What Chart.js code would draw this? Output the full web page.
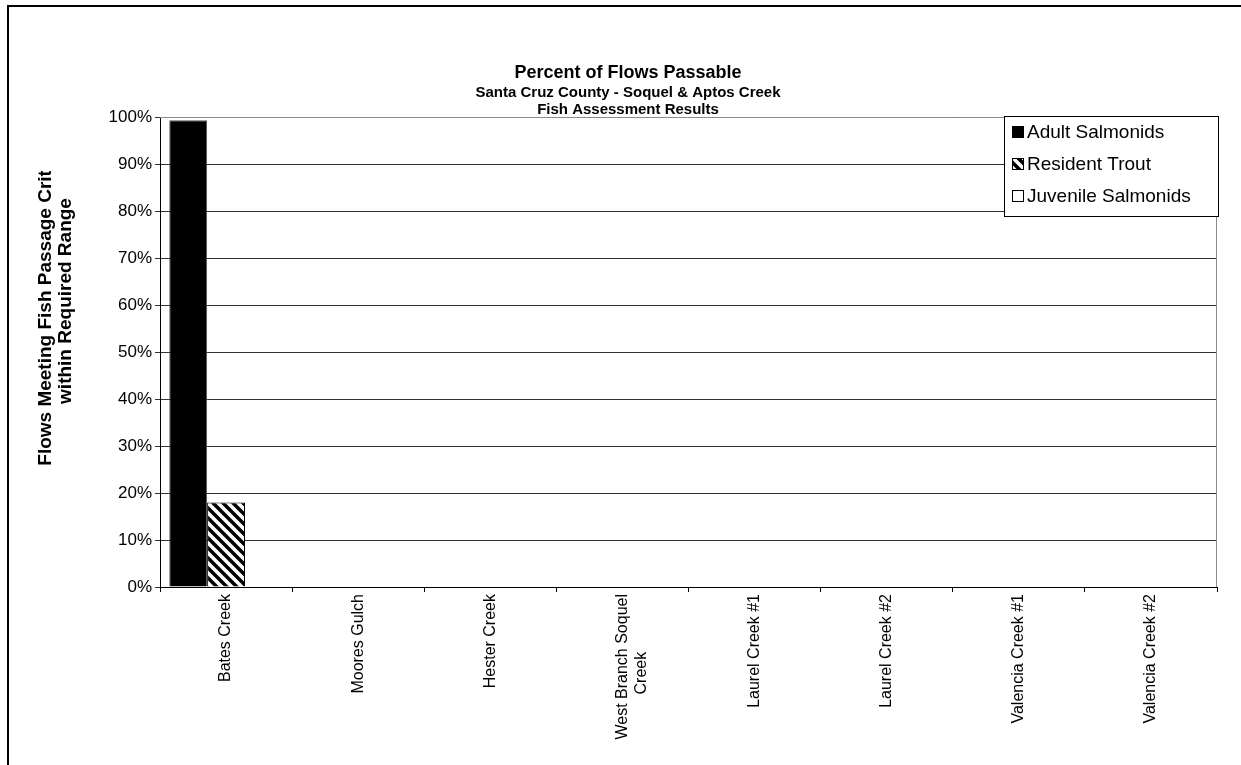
<!DOCTYPE html>
<html>
<head>
<meta charset="utf-8">
<script src="https://cdn.jsdelivr.net/npm/chart.js@4.4.0/dist/chart.umd.min.js"></script>
<style>
  html, body { margin: 0; padding: 0; background: #fff; }
  #wrap { width: 1241px; height: 765px; position: relative; }
</style>
</head>
<body>
<div id="wrap"><canvas id="chart" width="1241" height="765"></canvas></div>
<script>
// second line padded so it sits centred under the first, as in the original
const creeks = ["Bates Creek", "Moores Gulch", "Hester Creek",
  ["West Branch Soquel", "Creek" + "\u00a0".repeat(13)],
  "Laurel Creek #1", "Laurel Creek #2", "Valencia Creek #1", "Valencia Creek #2"];
const adultSalmonids = [99.3, 0, 0, 0, 0, 0, 0, 0];
const residentTrout = [18, 0, 0, 0, 0, 0, 0, 0];
const juvenileSalmonids = [0, 0, 0, 0, 0, 0, 0, 0];
const yTicks = [0, 10, 20, 30, 40, 50, 60, 70, 80, 90, 100];

const titleText = "Percent of Flows Passable";
const subtitleText = ["Santa Cruz County - Soquel & Aptos Creek", "Fish Assessment Results"];
const yTitleText = ["Flows Meeting Fish Passage Criteria", "within Required Range"];

const FONT = "Arial, 'Liberation Sans', sans-serif";

// backslash hatch for resident trout
function makeHatch() {
  const n = 10;
  const c = document.createElement("canvas");
  c.width = n; c.height = n;
  const g = c.getContext("2d");
  g.fillStyle = "#fff";
  g.fillRect(0, 0, n, n);
  g.strokeStyle = "#000";
  g.lineWidth = 3.5;
  g.beginPath();
  g.moveTo(-2, -2); g.lineTo(n + 2, n + 2);
  g.moveTo(-2, n - 2); g.lineTo(2, n + 2);
  g.moveTo(n - 2, -2); g.lineTo(n + 2, 2);
  g.stroke();
  return g.createPattern(c, "repeat");
}

const ctx = document.getElementById("chart").getContext("2d");
const hatch = makeHatch();

const decorations = {
  id: "decorations",
  beforeDraw(chart) {
    const c = chart.ctx;
    c.save();
    c.fillStyle = "#fff";
    c.fillRect(0, 0, chart.width, chart.height);
    c.restore();
  },
  beforeDatasetsDraw(chart) {
    const c = chart.ctx, a = chart.chartArea;
    c.save();
    c.strokeStyle = "#8c8c8c";
    c.lineWidth = 1;
    c.beginPath();
    c.moveTo(a.left, a.top + 0.5);
    c.lineTo(a.right - 0.5, a.top + 0.5);
    c.lineTo(a.right - 0.5, a.bottom);
    c.stroke();
    c.restore();
  },
  afterDraw(chart) {
    const c = chart.ctx;
    c.save();
    // outer frame
    c.strokeStyle = "#000";
    c.lineWidth = 2;
    c.strokeRect(8, 6, 1260, 800);

    // titles
    c.fillStyle = "#000";
    c.textAlign = "center";
    c.textBaseline = "middle";
    c.font = "bold 18px " + FONT;
    c.fillText(titleText, 628, 73);
    c.font = "bold 15px " + FONT;
    c.fillText(subtitleText[0], 628, 93);
    c.fillText(subtitleText[1], 628, 110);

    // y axis title, clipped at the top like the original
    c.save();
    c.beginPath();
    c.rect(0, 171, 160, 600);
    c.clip();
    c.translate(56, 301);
    c.rotate(-Math.PI / 2);
    c.font = "bold 19px " + FONT;
    c.fillText(yTitleText[0], 0, -10);
    c.fillText(yTitleText[1], 0, 10);
    c.restore();

    // legend
    const lx = 1004, ly = 116, lw = 214, lh = 100;
    c.fillStyle = "#fff";
    c.fillRect(lx, ly, lw, lh);
    c.strokeStyle = "#000";
    c.lineWidth = 1;
    c.strokeRect(lx + 0.5, ly + 0.5, lw, lh);
    c.textAlign = "left";
    c.font = "19px " + FONT;
    chart.data.datasets.forEach((ds, i) => {
      const cy = ly + 16 + i * 32;
      c.fillStyle = ds.backgroundColor;
      c.fillRect(lx + 8, cy - 6, 12, 12);
      c.strokeStyle = "#000";
      c.strokeRect(lx + 8.5, cy - 5.5, 11, 11);
      c.fillStyle = "#000";
      c.fillText(ds.label, lx + 23, cy + 1);
    });
    c.restore();
  }
};

new Chart(ctx, {
  type: "bar",
  data: {
    labels: creeks,
    datasets: [
      { label: "Adult Salmonids", data: adultSalmonids, backgroundColor: "#000", borderColor: "#555", borderWidth: 1 },
      { label: "Resident Trout", data: residentTrout, backgroundColor: hatch, borderColor: "#000", borderWidth: 1 },
      { label: "Juvenile Salmonids", data: juvenileSalmonids, backgroundColor: "#fff", borderColor: "#000", borderWidth: 1 }
    ]
  },
  options: {
    responsive: false,
    animation: false,
    layout: { padding: { left: 60, right: 24, top: 117, bottom: 0 } },
    datasets: { bar: { categoryPercentage: 0.86, barPercentage: 1 } },
    plugins: { legend: { display: false }, title: { display: false }, tooltip: { enabled: false } },
    scales: {
      x: {
        afterFit(s) { s.height = 178; },
        grid: { offset: true, drawOnChartArea: false, tickLength: 5, color: "#000" },
        border: { color: "#000", width: 1 },
        ticks: { minRotation: 90, maxRotation: 90, color: "#000", padding: 2, font: { family: FONT, size: 16 } }
      },
      y: {
        min: 0, max: 100,
        afterFit(s) { s.width = 100; },
        afterBuildTicks(s) { s.ticks = yTicks.map(v => ({ value: v })); },
        grid: { color: "#333", tickLength: 5 },
        border: { color: "#000", width: 1 },
        ticks: { color: "#000", padding: 3, font: { family: FONT, size: 17 }, callback: v => v + "%" }
      }
    }
  },
  plugins: [decorations]
});
</script>
</body>
</html>
